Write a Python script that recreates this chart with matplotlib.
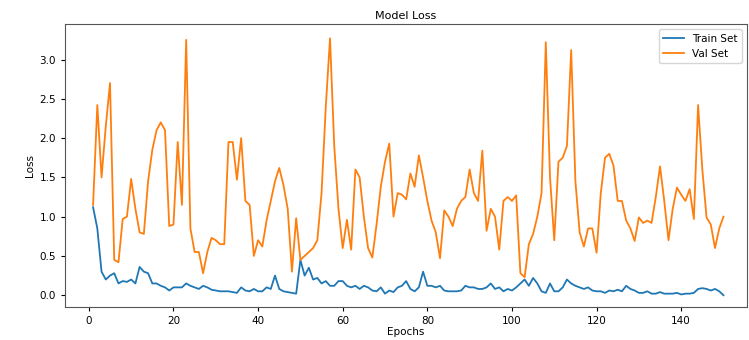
import numpy as np
import matplotlib
matplotlib.use("Agg")
import matplotlib.pyplot as plt

# --- data ---
epochs = np.arange(1, 151)

train_loss = [
    1.12, 0.85, 0.30, 0.20, 0.25, 0.28, 0.15, 0.18, 0.17, 0.20,
    0.15, 0.36, 0.30, 0.28, 0.15, 0.15, 0.12, 0.10, 0.06, 0.10,
    0.10, 0.10, 0.15, 0.12, 0.10, 0.08, 0.12, 0.10, 0.07, 0.06,
    0.05, 0.05, 0.05, 0.04, 0.03, 0.10, 0.06, 0.05, 0.08, 0.05,
    0.05, 0.10, 0.08, 0.25, 0.08, 0.05, 0.04, 0.03, 0.02, 0.45,
    0.25, 0.35, 0.20, 0.22, 0.15, 0.18, 0.12, 0.12, 0.18, 0.18,
    0.12, 0.10, 0.12, 0.08, 0.12, 0.10, 0.06, 0.05, 0.10, 0.02,
    0.06, 0.04, 0.10, 0.12, 0.18, 0.08, 0.05, 0.10, 0.30, 0.12,
    0.12, 0.10, 0.12, 0.06, 0.05, 0.05, 0.05, 0.06, 0.12, 0.10,
    0.10, 0.08, 0.08, 0.10, 0.15, 0.08, 0.10, 0.05, 0.08, 0.06,
    0.10, 0.15, 0.20, 0.12, 0.22, 0.15, 0.05, 0.03, 0.15, 0.05,
    0.05, 0.10, 0.20, 0.15, 0.12, 0.10, 0.08, 0.10, 0.06, 0.05,
    0.05, 0.03, 0.06, 0.05, 0.07, 0.05, 0.12, 0.08, 0.06, 0.03,
    0.03, 0.05, 0.02, 0.02, 0.04, 0.02, 0.02, 0.02, 0.03, 0.01,
    0.02, 0.02, 0.03, 0.08, 0.09, 0.08, 0.06, 0.08, 0.05, 0.00,
]

val_loss = [
    1.15, 2.42, 1.50, 2.15, 2.70, 0.45, 0.42, 0.97, 1.00, 1.48,
    1.10, 0.80, 0.78, 1.45, 1.85, 2.10, 2.20, 2.10, 0.88, 0.90,
    1.95, 1.15, 3.25, 0.85, 0.55, 0.55, 0.28, 0.55, 0.73, 0.70,
    0.65, 0.65, 1.95, 1.95, 1.47, 2.00, 1.20, 1.15, 0.50, 0.70,
    0.62, 0.95, 1.20, 1.45, 1.62, 1.40, 1.10, 0.30, 0.98, 0.45,
    0.50, 0.55, 0.60, 0.70, 1.30, 2.40, 3.27, 1.90, 1.10, 0.60,
    0.96, 0.58, 1.60, 1.50, 1.00, 0.60, 0.48, 0.90, 1.38, 1.70,
    1.93, 1.00, 1.30, 1.28, 1.22, 1.55, 1.38, 1.78, 1.50, 1.20,
    0.95, 0.80, 0.47, 1.08, 1.00, 0.88, 1.10, 1.20, 1.25, 1.60,
    1.30, 1.20, 1.84, 0.82, 1.10, 1.00, 0.58, 1.20, 1.25, 1.20,
    1.27, 0.28, 0.23, 0.65, 0.78, 1.00, 1.30, 3.22, 1.50, 0.70,
    1.70, 1.75, 1.90, 3.12, 1.45, 0.80, 0.62, 0.85, 0.85, 0.54,
    1.30, 1.75, 1.80, 1.65, 1.20, 1.20, 0.95, 0.85, 0.69, 0.99,
    0.92, 0.95, 0.92, 1.25, 1.64, 1.20, 0.70, 1.10, 1.37, 1.28,
    1.20, 1.35, 0.97, 2.42, 1.60, 0.99, 0.90, 0.60, 0.85, 1.00,
]

# --- plot ---
fig = plt.figure(figsize=(7.49, 3.40), dpi=100)
ax = fig.add_axes([0.087, 0.097, 0.910, 0.832])

ax.plot(epochs, train_loss, color="tab:blue", lw=1.3, label="Train Set")
ax.plot(epochs, val_loss, color="tab:orange", lw=1.3, label="Val Set")

ax.set_xlim(-5.6, 155.5)
ax.set_ylim(-0.15, 3.45)
ax.set_title("Model Loss", fontsize=8, pad=4)
ax.set_xlabel("Epochs", fontsize=7.5, labelpad=1)
ax.set_ylabel("Loss", fontsize=7.5, labelpad=3)
ax.tick_params(labelsize=7.5, length=3)
for s in ax.spines.values():
    s.set_edgecolor("#555555")
ax.legend(loc="upper right", fontsize=7.5, framealpha=0.8)

fig.savefig("out.png", dpi=100)
